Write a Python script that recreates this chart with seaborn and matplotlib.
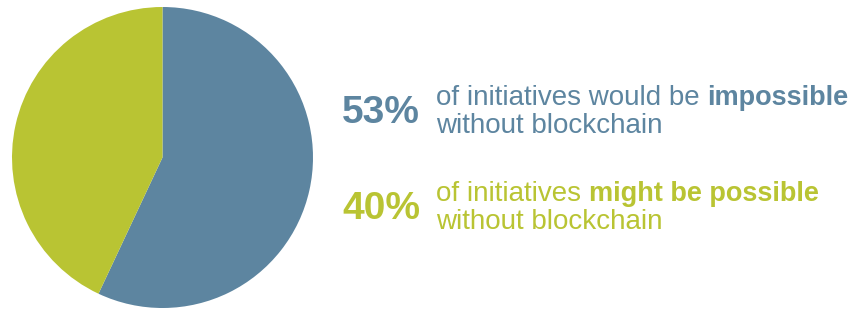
import matplotlib
matplotlib.use("Agg")
import matplotlib.pyplot as plt
import seaborn as sns

# data
labels = ["impossible without blockchain", "might be possible without blockchain"]
values = [53, 40]
pct_labels = ["53%", "40%"]
line1_regular = ["of initiatives would be ", "of initiatives "]
line1_bold = ["impossible", "might be possible"]
line2 = ["without blockchain", "without blockchain"]

sns.set_theme(style="white")
plt.rcParams["font.family"] = ["Liberation Sans", "DejaVu Sans"]

colors = ["#5D85A0", "#B9C433"]

W, H = 857, 312
fig = plt.figure(figsize=(W / 100, H / 100), dpi=100)
ax = fig.add_axes([12 / W, (H - 308) / H, 301 / W, 301 / H])
ax.pie(values, colors=colors, startangle=90, counterclock=False, radius=1,
       wedgeprops=dict(linewidth=0))
ax.set_xlim(-1, 1)
ax.set_ylim(-1, 1)
ax.set_aspect("equal")
ax.axis("off")

big_base = [123, 219]
l1_base = [105, 201]
l2_base = [133, 229]
for i in range(2):
    c = colors[i]
    fig.text(342 / W, 1 - big_base[i] / H, pct_labels[i], fontsize=28,
             fontweight="bold", color=c, ha="left", va="baseline")
    t = fig.text(436 / W, 1 - l1_base[i] / H, line1_regular[i], fontsize=20,
                 color=c, ha="left", va="baseline")
    ax.annotate(line1_bold[i], xy=(1, 0), xycoords=t, fontsize=19.5,
                fontweight="bold", color=c, ha="left", va="bottom",
                annotation_clip=False)
    fig.text(436 / W, 1 - l2_base[i] / H, line2[i], fontsize=20,
             color=c, ha="left", va="baseline")

fig.savefig("out.png", dpi=100)
